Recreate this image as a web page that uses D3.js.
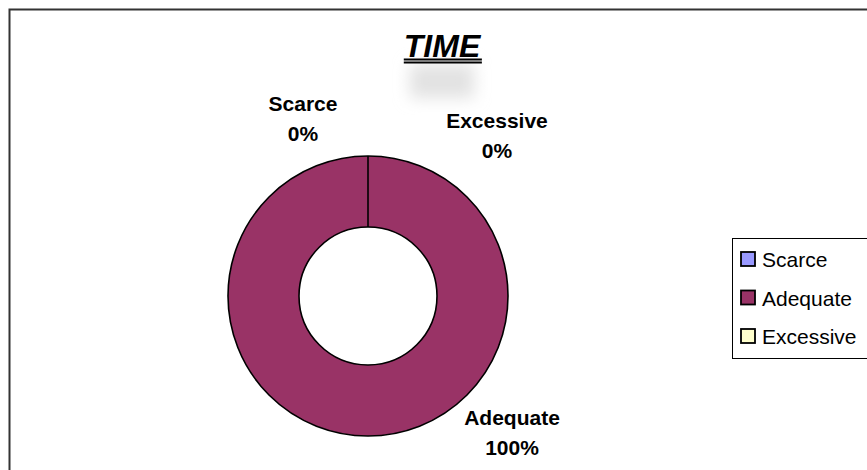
<!DOCTYPE html>
<html>
<head>
<meta charset="utf-8">
<script src="https://cdn.jsdelivr.net/npm/d3@7"></script>
<style>
  body { margin: 0; background: #fff; }
  svg { display: block; font-family: "Liberation Sans", Arial, sans-serif; }
</style>
</head>
<body>
<svg id="chart" width="867" height="470"></svg>
<script>
// data
const categories = ['Scarce', 'Adequate', 'Excessive'];
const values = [0, 100, 0];
const colors = ['#9999ff', '#993366', '#ffffcc'];

const width = 867, height = 470;
const cx = 368, cy = 296;
const outerR = 140, innerR = 69;

const svg = d3.select('#chart');

// 外框
svg.append('rect')
    .attr('x', 9.5).attr('y', 9.5)
    .attr('width', 870).attr('height', 480)
    .attr('fill', 'none')
    .attr('stroke', '#333')
    .attr('stroke-width', 2);

// 标题阴影
const defs = svg.append('defs');
defs.append('filter').attr('id', 'blur')
    .attr('x', '-50%').attr('y', '-50%').attr('width', '200%').attr('height', '200%')
    .append('feGaussianBlur').attr('stdDeviation', 8);

svg.append('rect')
    .attr('x', 410).attr('y', 64)
    .attr('width', 64).attr('height', 34)
    .attr('fill', '#e2e2e2')
    .attr('filter', 'url(#blur)');

// 标题
const title = svg.append('text')
    .attr('x', 442).attr('y', 57)
    .attr('text-anchor', 'middle')
    .attr('font-size', '32px')
    .attr('font-weight', 'bold')
    .attr('font-style', 'italic')
    .text('TIME');
const tb = title.node().getBBox();
[59.5, 62.5].forEach(y => {
    svg.append('line')
        .attr('x1', tb.x).attr('x2', tb.x + tb.width)
        .attr('y1', y).attr('y2', y)
        .attr('stroke', '#000').attr('stroke-width', 1.8);
});

// 饼图
const pie = d3.pie().sort(null).value(d => d.value);
const arc = d3.arc().innerRadius(innerR).outerRadius(outerR);
const slices = pie(categories.map((c, i) => ({ label: c, value: values[i], color: colors[i] })));

const g = svg.append('g').attr('transform', `translate(${cx},${cy})`);
g.selectAll('path')
    .data(slices)
    .join('path')
    .attr('d', arc)
    .attr('fill', d => d.data.color)
    .attr('stroke', '#000')
    .attr('stroke-width', 1.6);

// 数据标签 (Excel 自动放置的偏移)
const labelOffsets = [[-65, -185], [144, 129], [129, -168]];
slices.forEach((d, i) => {
    const [dx, dy] = labelOffsets[i];
    const t = g.append('text')
        .attr('x', dx).attr('y', dy)
        .attr('text-anchor', 'middle')
        .attr('font-size', '21px')
        .attr('font-weight', 'bold');
    t.append('tspan').attr('x', dx).text(d.data.label);
    const pct = Math.round(d.value / d3.sum(values) * 100);
    t.append('tspan').attr('x', dx).attr('dy', 30).text(pct + '%');
});

// 图例
const lg = svg.append('g').attr('transform', 'translate(732,238)');
lg.append('rect')
    .attr('x', 0.5).attr('y', 0.5)
    .attr('width', 150).attr('height', 120)
    .attr('fill', '#fff')
    .attr('stroke', '#000').attr('stroke-width', 1);

const item = lg.selectAll('g.item')
    .data(categories)
    .join('g')
    .attr('class', 'item')
    .attr('transform', (d, i) => `translate(9,${21 + i * 38.5})`);
item.append('rect')
    .attr('x', 0).attr('y', -7)
    .attr('width', 14).attr('height', 14)
    .attr('fill', (d, i) => colors[i])
    .attr('stroke', '#000').attr('stroke-width', 1.8);
item.append('text')
    .attr('x', 21).attr('y', 8)
    .attr('font-size', '21px')
    .text(d => d);
</script>
</body>
</html>
